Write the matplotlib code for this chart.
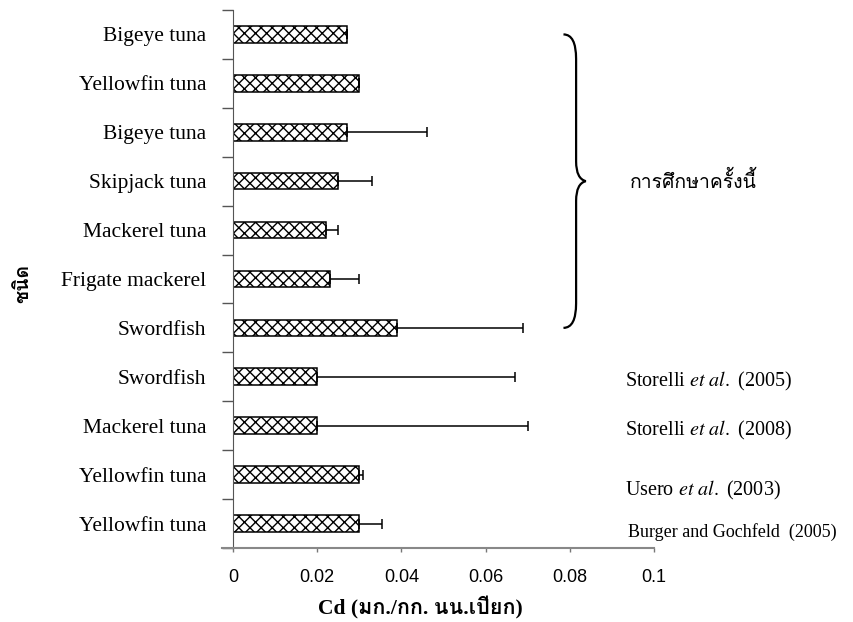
import matplotlib
matplotlib.use('Agg')
import matplotlib.pyplot as plt
from matplotlib import font_manager
from matplotlib.ft2font import FT2Font
from matplotlib.path import Path
from matplotlib.patches import PathPatch
import numpy as np


# Data, top row first.
species = ['Bigeye tuna', 'Yellowfin tuna', 'Bigeye tuna', 'Skipjack tuna',
           'Mackerel tuna', 'Frigate mackerel', 'Swordfish', 'Swordfish',
           'Mackerel tuna', 'Yellowfin tuna', 'Yellowfin tuna']
cd_mean = [0.027, 0.030, 0.027, 0.025, 0.022, 0.023, 0.039, 0.020, 0.020, 0.030, 0.030]
cd_err = [0.0, 0.0, 0.019, 0.008, 0.003, 0.007, 0.030, 0.047, 0.050, 0.001, 0.0053]
sources = ['Storelli $\\mathit{et\\ al.}$ (2005)', 'Storelli $\\mathit{et\\ al.}$ (2008)',
           'Usero $\\mathit{et\\ al.}$ (2003)', 'Burger and Gochfeld  (2005)']
source_rows = [7, 8, 9, 10]
this_study = 'การศึกษาครั้งนี้'


# Find an installed font that has Thai glyphs.
def find_thai():
    for f in font_manager.fontManager.ttflist:
        try:
            cmap = FT2Font(f.fname).get_charmap()
        except Exception:
            continue
        if 0x0E01 in cmap:
            return f.name
    return 'DejaVu Sans'

thai = find_thai()

plt.rcParams['mathtext.fontset'] = 'stix'
plt.rcParams['hatch.color'] = '#666666'
plt.rcParams['hatch.linewidth'] = 1.0

fig = plt.figure(figsize=(8.54, 6.22), dpi=100)
ax = fig.add_axes([0.2728, 0.119, 0.493, 0.865])

y = np.arange(len(species))
ax.barh(y, cd_mean, height=0.34, color='white', edgecolor='black',
        linewidth=1.1, hatch='xxx', zorder=2)
ax.errorbar(cd_mean, y, xerr=[np.zeros(len(y)), cd_err], fmt='none',
            ecolor='black', elinewidth=1.1, capsize=3.5, capthick=1.1, zorder=3)

ax.set_xlim(0, 0.1)
ax.set_ylim(len(species) - 0.5, -0.5)
ax.set_xticks([0, 0.02, 0.04, 0.06, 0.08, 0.1])
ax.set_xticklabels(['0', '0.02', '0.04', '0.06', '0.08', '0.1'],
                   family='Liberation Sans', fontsize=13)

# category boundaries get the tick marks, names sit between them
ax.set_yticks(np.arange(-0.5, len(species), 1.0))
ax.set_yticklabels([])
ax.set_yticks(y, minor=True)
ax.set_yticklabels(species, minor=True, family='Liberation Serif', fontsize=15.5)
ax.tick_params(axis='y', which='major', length=8, width=1.0, color='#555555')
ax.tick_params(axis='y', which='minor', length=0, pad=19)
ax.tick_params(axis='x', length=3, width=1.0, color='#777777', pad=12)

for s in ['top', 'right']:
    ax.spines[s].set_visible(False)
ax.spines['left'].set_color('#555555')
ax.spines['bottom'].set_color('#888888')
ax.spines['bottom'].set_linewidth(1.5)
ax.spines['bottom'].set_bounds(-0.0026, 0.1)

ax.set_xlabel('Cd (มก./กก. นน.เปียก)', family=['Liberation Serif', thai],
              fontsize=15.5, fontweight='bold')
ax.xaxis.set_label_coords(0.445, -0.09)
fig.text(0.027, 0.545, 'ชนิด', family=[thai, 'DejaVu Sans'], fontsize=14,
         fontweight='bold', rotation=90, ha='center', va='center')

# brace round the rows of this study
x0, x1, xt = 0.0785, 0.0815, 0.0838
y0, y1 = 0, 6
ym = (y0 + y1) / 2
verts = [(x0, y0), (x1, y0), (x1, y0 + 0.5),
         (x1, ym - 0.4), (x1, ym - 0.05), (xt, ym),
         (x1, ym + 0.05), (x1, ym + 0.4), (x1, y1 - 0.5),
         (x1, y1), (x0, y1)]
codes = [Path.MOVETO, Path.CURVE3, Path.CURVE3,
         Path.LINETO, Path.CURVE3, Path.CURVE3,
         Path.CURVE3, Path.CURVE3, Path.LINETO,
         Path.CURVE3, Path.CURVE3]
ax.add_patch(PathPatch(Path(verts, codes), facecolor='none', edgecolor='black',
                       linewidth=1.6, clip_on=False))
ax.text(0.0943, ym, this_study, family=[thai, 'DejaVu Sans'], fontsize=14,
        ha='left', va='center', clip_on=False)

offsets = [0.1, 0.1, 0.33, 0.17]
for txt, r, off in zip(sources, source_rows, offsets):
    ax.text(0.0931 if r < 10 else 0.0939, r + off, txt, family='Liberation Serif',
            fontsize=14.5 if r < 10 else 13, ha='left', va='center', clip_on=False)

fig.savefig('out.png', dpi=100)
